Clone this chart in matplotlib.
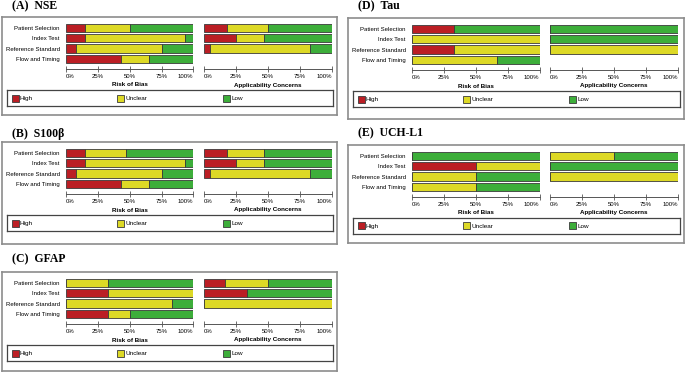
import matplotlib
matplotlib.use('Agg')
import matplotlib.pyplot as plt
from matplotlib.patches import Rectangle

# domains of QUADAS-2
rob_domains = ["Patient Selection", "Index Test", "Reference Standard", "Flow and Timing"]
app_domains = ["Patient Selection", "Index Test", "Reference Standard"]
levels = ["High", "Unclear", "Low"]
ticks = [0, 25, 50, 75, 100]
tick_labels = ["0%", "25%", "50%", "75%", "100%"]

# percent of studies: [high, unclear, low], one value per domain
nse_rob = [[14.9, 14.9, 7.6, 43.0], [35.5, 78.1, 67.6, 21.8], [49.6, 7.0, 24.8, 35.2]]
nse_app = [[18.3, 25.3, 4.4], [31.8, 21.4, 78.1], [49.9, 53.3, 17.5]]

s100_rob = [[14.9, 14.9, 7.6, 43.0], [32.1, 78.1, 67.6, 21.8], [53.0, 7.0, 24.8, 35.2]]
s100_app = [[18.3, 25.3, 4.4], [28.4, 21.4, 78.1], [53.3, 53.3, 17.5]]

gfap_rob = [[0, 33.3, 0, 33.3], [33.3, 66.7, 83.3, 16.7], [66.7, 0, 16.7, 50.0]]
gfap_app = [[16.7, 33.3, 0], [33.3, 0, 100], [50.0, 66.7, 0]]

tau_rob = [[33.3, 0, 33.3, 0], [0, 100, 66.7, 66.7], [66.7, 0, 0, 33.3]]
tau_app = [[0, 0, 0], [0, 0, 100], [100, 100, 0]]

uch_rob = [[0, 50, 0, 0], [0, 50, 50, 50], [100, 0, 50, 50]]
uch_app = [[0, 0, 0], [50, 0, 100], [50, 100, 0]]

colors = ["#BB1E24", "#DDD926", "#3DAE3A"]

W, H = 685, 374
fig = plt.figure(figsize=(6.85, 3.74), dpi=100)
plt.rcParams['font.family'] = ['Liberation Sans', 'DejaVu Sans']


def add_ax(x, y, w, h):
    return fig.add_axes([x / W, 1 - (y + h) / H, w / W, h / H])


def fig_text(x, y, s, **kw):
    fig.text(x / W, 1 - y / H, s, **kw)


def bar_block(ax, data, domains, show_labels):
    left = [0] * len(domains)
    for k in range(3):
        vals = data[k]
        ax.barh(range(len(domains)), vals, left=left, height=0.8,
                color=colors[k], edgecolor="#3a3a3a", linewidth=0.6)
        left = [a + b for a, b in zip(left, vals)]
    ax.set_xlim(0, 100)
    ax.set_ylim(4.0, -0.5)
    ax.patch.set_alpha(0)
    for s in ["top", "right", "left"]:
        ax.spines[s].set_visible(False)
    ax.spines["bottom"].set_color("#555555")
    ax.spines["bottom"].set_linewidth(0.7)
    ax.set_xticks(ticks)
    ax.set_xticklabels(tick_labels)
    ax.tick_params(axis="x", direction="inout", length=4, width=0.6,
                   color="#555555", labelsize=4.3, pad=1.5)
    lbls = ax.get_xticklabels()
    lbls[0].set_ha("left")
    lbls[-1].set_ha("right")
    if show_labels:
        ax.set_yticks(range(len(domains)))
        ax.set_yticklabels(domains)
        ax.tick_params(axis="y", length=0, labelsize=4.3, pad=4.5)
    else:
        ax.set_yticks([])


def draw_panel(title, rob, app, bx, by, bw, bh, ty):
    frame = add_ax(bx, by, bw, bh)
    frame.set_xticks([])
    frame.set_yticks([])
    for s in frame.spines.values():
        s.set_color("#8c8c8c")
        s.set_linewidth(1.2)
    fig_text(bx + 10, ty, title, ha="left", va="center", fontsize=8.5,
             family="Liberation Serif", fontweight="semibold")

    ax1 = add_ax(bx + 64, by + 6, 127.5, 46)
    bar_block(ax1, rob, rob_domains, True)
    ax2 = add_ax(bx + 202, by + 6, 128, 46)
    bar_block(ax2, app, app_domains, False)
    fig_text(bx + 64 + 127.5 / 2, by + 68, "Risk of Bias", ha="center",
             va="center", fontsize=4.5, fontweight="bold")
    fig_text(bx + 202 + 64, by + 68, "Applicability Concerns", ha="center",
             va="center", fontsize=4.5, fontweight="bold")

    lw_, lh_ = bw - 9, 16
    lax = add_ax(bx + 4.5, by + 73, lw_, lh_)
    lax.set_xticks([])
    lax.set_yticks([])
    lax.set_xlim(0, lw_)
    lax.set_ylim(lh_, 0)
    for s in lax.spines.values():
        s.set_color("#444444")
        s.set_linewidth(0.9)
    for px, lab, c in zip([5, 110, 216], levels, colors):
        lax.add_patch(Rectangle((px, 4.5), 7, 7, facecolor=c,
                                edgecolor="#3a3a3a", linewidth=0.6))
        lax.text(px + 8.5, 8.2, lab, ha="left", va="center", fontsize=4.6)


draw_panel("(A)\u2002NSE", nse_rob, nse_app, 2, 17, 335, 98, 6.5)
draw_panel("(B)\u2002S100\u03b2", s100_rob, s100_app, 2, 142, 335, 102, 133.5)
draw_panel("(C)\u2002GFAP", gfap_rob, gfap_app, 2, 272, 335, 99, 259)
draw_panel("(D)\u2002Tau", tau_rob, tau_app, 348, 18, 336, 101, 6.5)
draw_panel("(E)\u2002UCH-L1", uch_rob, uch_app, 348, 145, 336, 98, 133.5)

fig.savefig("out.png", dpi=100)
